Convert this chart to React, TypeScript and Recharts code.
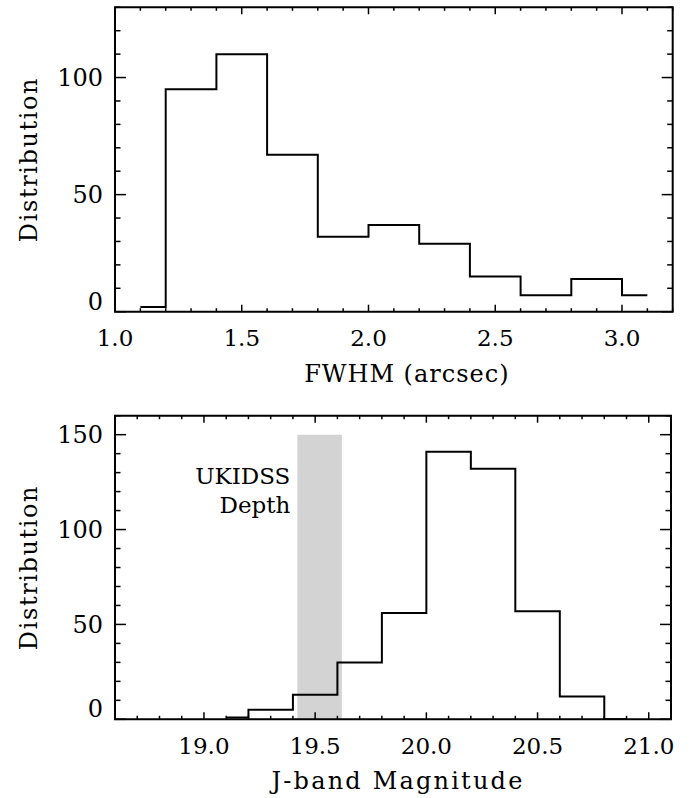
import { LineChart, Line, XAxis, YAxis, ReferenceArea, Label } from "recharts"

const FONT = "'DejaVu Serif', 'Liberation Serif', serif"

// top panel: FWHM histogram (bin centres / counts)
const fwhmBins = [1.1, 1.3, 1.5, 1.7, 1.9, 2.1, 2.3, 2.5, 2.7, 2.9, 3.1]
const fwhmCounts = [2, 95, 110, 67, 32, 37, 29, 15, 7, 14, 7]
const fwhmMajor = [1.0, 1.5, 2.0, 2.5, 3.0]
const fwhmCountMajor = [0, 50, 100]

// bottom panel: J-band magnitude histogram
const jBins = [19.1, 19.3, 19.5, 19.7, 19.9, 20.1, 20.3, 20.5, 20.7, 20.9]
const jCounts = [1, 5, 13, 30, 56, 141, 132, 57, 12, 0]
const jMajor = [19.0, 19.5, 20.0, 20.5, 21.0]
const jCountMajor = [0, 50, 100, 150]
const ukidssDepth = [19.42, 19.62]
const ukidssTop = 150

const AXIS_W = 40
const AXIS_H = 40

const steps = (lo: number, hi: number, step: number) => {
    const out: number[] = []
    const n = Math.round((hi - lo) / step)
    for (let i = 0; i <= n; i++) out.push(+(lo + i * step).toFixed(4))
    return out
}

const isIn = (list: number[], v: number) => list.some(m => Math.abs(m - v) < 1e-6)

type PanelProps = {
    data: { x: number; n: number }[]
    height: number
    // plot-area insets inside this panel
    box: { top: number; right: number; bottom: number; left: number }
    xDomain: [number, number]
    xMajor: number[]
    yDomain: [number, number]
    yMajor: number[]
    xTitle: string
    xTitleDx: number
    xTitleSpacing: number
    children?: any
}

function Panel({ data, height, box, xDomain, xMajor, yDomain, yMajor, xTitle, xTitleDx, xTitleSpacing, children }: PanelProps) {
    const width = 691
    const plotW = width - box.left - box.right
    const plotH = height - box.top - box.bottom
    const margin = { top: box.top, right: box.right, bottom: box.bottom - AXIS_H, left: box.left - AXIS_W }

    const xTick = (p: any) => {
        const v = p.payload.value
        const major = isIn(xMajor, v)
        const len = major ? 7 : 3.5
        return (
            <g>
                <line x1={p.x} x2={p.x} y1={p.y} y2={p.y - len} stroke="#000" strokeWidth={1.5} />
                <line x1={p.x} x2={p.x} y1={p.y - plotH} y2={p.y - plotH + len} stroke="#000" strokeWidth={1.5} />
                {major && (
                    <text x={p.x} y={p.y + 34.5} textAnchor="middle" fontFamily={FONT} fontSize={23} fill="#000">
                        {v.toFixed(1)}
                    </text>
                )}
            </g>
        )
    }

    const yTick = (p: any) => {
        const v = p.payload.value
        const major = isIn(yMajor, v)
        const len = major ? 11 : 5.5
        return (
            <g>
                <line x1={p.x} x2={p.x + len} y1={p.y} y2={p.y} stroke="#000" strokeWidth={1.5} />
                <line x1={p.x + plotW} x2={p.x + plotW - len} y1={p.y} y2={p.y} stroke="#000" strokeWidth={1.5} />
                {major && (
                    <text x={p.x - 12} y={v === 0 ? p.y - 2 : p.y + 8.5} textAnchor="end" fontFamily={FONT} fontSize={24} fill="#000">
                        {v}
                    </text>
                )}
            </g>
        )
    }

    return (
        <LineChart width={width} height={height} data={data} margin={margin}>
            <XAxis
                type="number"
                dataKey="x"
                domain={xDomain}
                ticks={steps(xDomain[0], xDomain[1], 0.1)}
                interval={0}
                height={AXIS_H}
                tickSize={0}
                tickMargin={0}
                axisLine={false}
                tickLine={false}
                allowDataOverflow
                tick={xTick}
            >
                <Label
                    content={(lp: any) => {
                        const vb = lp.viewBox && lp.viewBox.width ? lp.viewBox : { x: box.left, y: height - box.bottom, width: plotW }
                        return (
                            <text
                                x={vb.x + vb.width / 2 + xTitleDx}
                                y={vb.y + 70}
                                textAnchor="middle"
                                fontFamily={FONT}
                                fontSize={24}
                                letterSpacing={xTitleSpacing}
                                fill="#000"
                            >
                                {xTitle}
                            </text>
                        )
                    }}
                />
            </XAxis>
            <YAxis
                type="number"
                domain={yDomain}
                ticks={steps(yDomain[0], yDomain[1], 10)}
                interval={0}
                width={AXIS_W}
                tickSize={0}
                tickMargin={0}
                axisLine={false}
                tickLine={false}
                allowDataOverflow
                tick={yTick}
            >
                <Label
                    content={(lp: any) => {
                        const vb = lp.viewBox && lp.viewBox.height ? lp.viewBox : { x: 0, y: box.top, height: plotH }
                        const cy = vb.y + vb.height / 2
                        return (
                            <text
                                x={37}
                                y={cy}
                                transform={`rotate(-90, 37, ${cy})`}
                                textAnchor="middle"
                                fontFamily={FONT}
                                fontSize={24}
                                letterSpacing={1.6}
                                fill="#000"
                            >
                                Distribution
                            </text>
                        )
                    }}
                />
            </YAxis>
            {children}
            <Line
                type="step"
                dataKey="n"
                stroke="#000"
                strokeWidth={2}
                dot={false}
                activeDot={false}
                isAnimationActive={false}
            />
            <ReferenceArea
                x1={xDomain[0]}
                x2={xDomain[1]}
                y1={yDomain[0]}
                y2={yDomain[1]}
                fill="none"
                stroke="#000"
                strokeWidth={2}
            />
        </LineChart>
    )
}

export default function App() {
    const fwhmData = fwhmBins.map((x, i) => ({ x, n: fwhmCounts[i] }))
    const jData = jBins.map((x, i) => ({ x, n: jCounts[i] }))

    return (
        <div style={{ position: "absolute", left: 0, top: 0, width: 691, height: 798, background: "#fff" }}>
            <Panel
                data={fwhmData}
                height={399}
                box={{ top: 7.3, right: 18.3, bottom: 87.3, left: 115 }}
                xDomain={[1.0, 3.2]}
                xMajor={fwhmMajor}
                yDomain={[0, 130]}
                yMajor={fwhmCountMajor}
                xTitle="FWHM (arcsec)"
                xTitleDx={13}
                xTitleSpacing={1}
            />
            <Panel
                data={jData}
                height={399}
                box={{ top: 16.7, right: 20, bottom: 78.7, left: 115 }}
                xDomain={[18.6, 21.1]}
                xMajor={jMajor}
                yDomain={[0, 160]}
                yMajor={jCountMajor}
                xTitle="J-band Magnitude"
                xTitleDx={5}
                xTitleSpacing={2.2}
            >
                <ReferenceArea
                    x1={ukidssDepth[0]}
                    x2={ukidssDepth[1]}
                    y1={0}
                    y2={ukidssTop}
                    fill="#d3d3d3"
                    fillOpacity={1}
                    stroke="none"
                    label={(lp: any) => {
                        const vb = lp.viewBox
                        if (!vb) return null
                        return (
                            <g>
                                <text x={vb.x - 7} y={vb.y + 49.5} textAnchor="end" fontFamily={FONT} fontSize={23} fill="#000">
                                    UKIDSS
                                </text>
                                <text x={vb.x - 7} y={vb.y + 78} textAnchor="end" fontFamily={FONT} fontSize={23} fill="#000">
                                    Depth
                                </text>
                            </g>
                        )
                    }}
                />
            </Panel>
        </div>
    )
}
